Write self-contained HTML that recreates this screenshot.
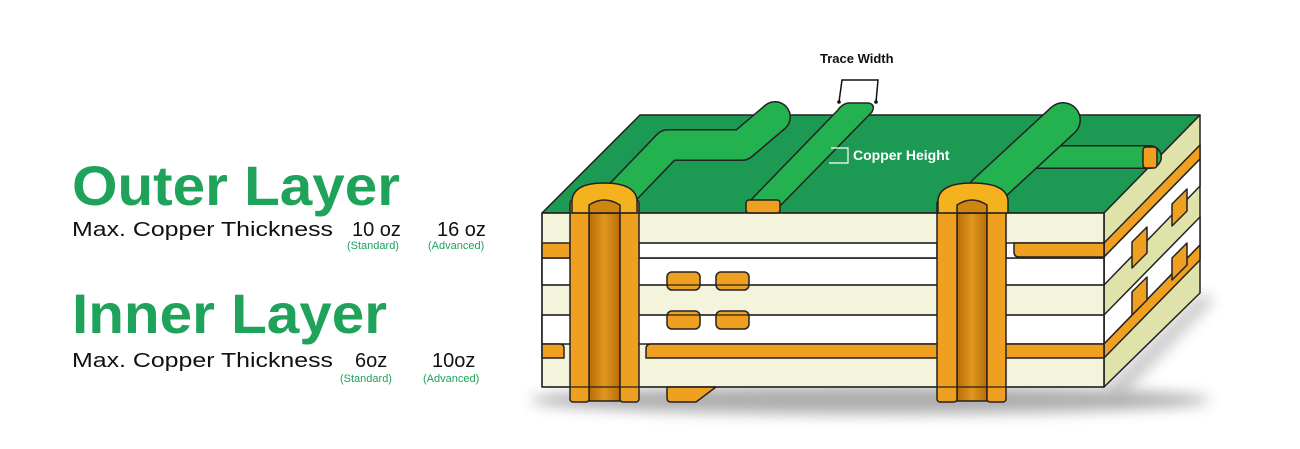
<!DOCTYPE html>
<html><head><meta charset="utf-8"><style>
html,body{margin:0;padding:0;background:#fff;}
svg{display:block;}
</style></head><body>
<svg width="1300" height="449" viewBox="0 0 1300 449" xmlns="http://www.w3.org/2000/svg">
<defs>
<filter id="bl" x="-20%" y="-50%" width="140%" height="200%"><feGaussianBlur stdDeviation="7"/></filter>
<linearGradient id="barrel" x1="0" x2="1" y1="0" y2="0">
<stop offset="0" stop-color="#b86e08"/><stop offset="0.5" stop-color="#e0961e"/><stop offset="1" stop-color="#b86e08"/></linearGradient>
</defs>
<g font-family="Liberation Sans, sans-serif">
<text x="72" y="205" font-size="56" font-weight="bold" fill="#1fa25a" textLength="328" lengthAdjust="spacingAndGlyphs">Outer Layer</text>
<text x="72" y="236" font-size="20" fill="#111" textLength="261" lengthAdjust="spacingAndGlyphs">Max. Copper Thickness</text>
<text x="352" y="236" font-size="20" fill="#111">10 oz</text>
<text x="437" y="236" font-size="20" fill="#111">16 oz</text>
<text x="347" y="249" font-size="11" fill="#1fa25a">(Standard)</text>
<text x="428" y="249" font-size="11" fill="#1fa25a">(Advanced)</text>
<text x="72" y="333" font-size="56" font-weight="bold" fill="#1fa25a" textLength="315" lengthAdjust="spacingAndGlyphs">Inner Layer</text>
<text x="72" y="367" font-size="20" fill="#111" textLength="261" lengthAdjust="spacingAndGlyphs">Max. Copper Thickness</text>
<text x="355" y="367" font-size="20" fill="#111">6oz</text>
<text x="432" y="367" font-size="20" fill="#111">10oz</text>
<text x="340" y="382" font-size="11" fill="#1fa25a">(Standard)</text>
<text x="423" y="382" font-size="11" fill="#1fa25a">(Advanced)</text>
</g>
<ellipse cx="870" cy="400" rx="340" ry="14" fill="#999" filter="url(#bl)" opacity="0.8"/>
<path d="M1104,387 L1200,293 L1215,300 L1120,400 Z" fill="#aaa" filter="url(#bl)" opacity="0.6"/>
<g stroke="#222" stroke-width="1.5" stroke-linejoin="round">
<polygon points="542,213 1104,213 1200,115 640,115" fill="#1c9a54"/>
<polygon points="1104,213 1200,115 1200,293 1104,387" fill="#dfe3aa"/>
<polygon points="1104,243 1200,145 1200,159 1104,257" fill="#f0a020"/>
<polygon points="1104,257 1200,159 1200,186 1104,285" fill="#fff"/>
<polygon points="1104,315 1200,217 1200,245 1104,344" fill="#fff"/>
<polygon points="1104,344 1200,245 1200,260 1104,358" fill="#f0a020"/>
<polygon points="1132,242 1147,227 1147,253 1132,268" fill="#f0a020"/>
<polygon points="1172,204 1187,189 1187,211 1172,226" fill="#f0a020"/>
<polygon points="1132,292 1147,277 1147,300 1132,315" fill="#f0a020"/>
<polygon points="1172,258 1187,243 1187,265 1172,280" fill="#f0a020"/>
<rect x="542" y="213" width="562" height="174" fill="#f4f3db"/>
<rect x="542" y="258" width="562" height="27" fill="#fff"/>
<rect x="639" y="243" width="298" height="15" fill="#fff"/>
<rect x="542" y="315" width="562" height="29" fill="#fff"/>
<rect x="1006" y="243" width="98" height="15" fill="#fff"/>
<rect x="542" y="243" width="28" height="15" fill="#f0a020"/>
<path d="M1014,243 H1104 V257 H1019 Q1014,257 1014,252 Z" fill="#f0a020"/>
<path d="M542,344 H560 Q564,344 564,348 V358 H542 Z" fill="#f0a020"/>
<path d="M651,344 H1104 V358 H646 V349 Q646,344 651,344 Z" fill="#f0a020"/>
<rect x="667" y="272" width="33" height="18" rx="5" fill="#f0a020"/>
<rect x="716" y="272" width="33" height="18" rx="5" fill="#f0a020"/>
<rect x="667" y="311" width="33" height="18" rx="5" fill="#f0a020"/>
<rect x="716" y="311" width="33" height="18" rx="5" fill="#f0a020"/>
<path d="M667,387 H716 L696,402 H671 Q667,402 667,398 Z" fill="#f0a020"/>
<rect x="589" y="205" width="31" height="196" fill="url(#barrel)"/>
<rect x="570" y="200" width="19" height="202" rx="3" fill="#f0a020"/>
<rect x="620" y="200" width="19" height="202" rx="3" fill="#f0a020"/>
<rect x="957" y="205" width="30" height="196" fill="url(#barrel)"/>
<rect x="937" y="200" width="20" height="202" rx="3" fill="#f0a020"/>
<rect x="987" y="200" width="19" height="202" rx="3" fill="#f0a020"/>
<!-- traces -->
<polyline points="618,197 668,145 742,145 775,117" fill="none" stroke="#222" stroke-width="32" stroke-linejoin="round" stroke-linecap="round"/>
<polyline points="618,197 668,145 742,145 775,117" fill="none" stroke="#24b14f" stroke-width="29" stroke-linejoin="round" stroke-linecap="round"/>
<path d="M746,205 L781,205 L872,112 Q876,104 868,103 L848,103 Q842,104 838,110 Z" fill="#24b14f"/>
<rect x="746" y="200" width="34" height="13" rx="3" fill="#f0a020"/>
<polyline points="1035,157 1150,157" fill="none" stroke="#222" stroke-width="24" stroke-linecap="round"/>
<polyline points="1035,157 1150,157" fill="none" stroke="#24b14f" stroke-width="21" stroke-linecap="round"/>
<rect x="1143" y="147" width="14" height="21" rx="3" fill="#f0a020"/>
<polyline points="985,192 1063,120" fill="none" stroke="#222" stroke-width="36" stroke-linecap="round"/>
<polyline points="985,192 1063,120" fill="none" stroke="#24b14f" stroke-width="33" stroke-linecap="round"/>
<path d="M572,213 V200 Q574,183 604,183 Q635,183 637,200 V213 Z" fill="#f3b21e"/>
<path d="M938,213 V200 Q940,183 972,183 Q1006,183 1008,200 V213 Z" fill="#f3b21e"/>
<path d="M589,213 V205 Q604,195 620,205 V213 Z" fill="#cf8510"/>
<path d="M957,213 V205 Q972,195 987,205 V213 Z" fill="#cf8510"/>
</g>
<g stroke="#222" stroke-width="1.3">
<line x1="542" y1="213" x2="1104" y2="213"/>
<line x1="639" y1="243" x2="937" y2="243"/>
<line x1="542" y1="285" x2="570" y2="285"/><line x1="639" y1="285" x2="937" y2="285"/><line x1="1006" y1="285" x2="1104" y2="285"/>
<line x1="542" y1="315" x2="570" y2="315"/><line x1="639" y1="315" x2="937" y2="315"/><line x1="1006" y1="315" x2="1104" y2="315"/>
<line x1="639" y1="258" x2="937" y2="258"/>
<line x1="542" y1="387" x2="1104" y2="387"/>
<line x1="542" y1="213" x2="542" y2="387"/>
<line x1="1104" y1="213" x2="1104" y2="387"/>
</g>
<text x="820" y="63" font-family="Liberation Sans, sans-serif" font-size="13" font-weight="bold" fill="#111">Trace Width</text>
<polyline points="839,102 842,80 878,80 876,102" fill="none" stroke="#111" stroke-width="1.5"/>
<circle cx="839" cy="102" r="1.8" fill="#111"/><circle cx="876" cy="102" r="1.8" fill="#111"/>
<polyline points="831,148 848,148 848,163 829,163" fill="none" stroke="#fff" stroke-width="1.2"/>
<text x="853" y="160" font-family="Liberation Sans, sans-serif" font-size="14" font-weight="bold" fill="#fff">Copper Height</text>
</svg>
</body></html>
